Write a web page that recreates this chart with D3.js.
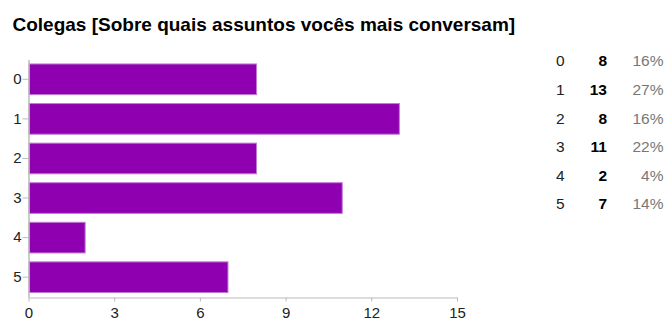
<!DOCTYPE html>
<html><head><meta charset="utf-8">
<script src="https://cdn.jsdelivr.net/npm/d3@7"></script>
<style>body{margin:0;background:#fff;}svg{display:block;font-family:"Liberation Sans",Arial,sans-serif;}</style>
</head><body>
<svg id="c" width="665" height="320"></svg>
<script>
const title = "Colegas [Sobre quais assuntos vocês mais conversam]";
const categories = ["0","1","2","3","4","5"];
const values = [8,13,8,11,2,7];
const percents = ["16%","27%","16%","22%","4%","14%"];
const xTicks = [0,3,6,9,12,15];

const svg = d3.select("#c");
svg.append("text").attr("x",12.5).attr("y",30.5).attr("font-size",19).attr("font-weight","bold").attr("fill","#000").text(title);

const x = d3.scaleLinear().domain([0,15]).range([28.5,457]);
const y = d3.scaleBand().domain(categories).range([59.5,297]).paddingInner(0.2).paddingOuter(0.1);

const g = svg.append("g");
g.selectAll("rect").data(values).join("rect")
  .attr("x",x(0)+0.5).attr("y",(d,i)=>y(categories[i])+0.5)
  .attr("width",d=>x(d)-x(0)-1).attr("height",y.bandwidth()-1)
  .attr("fill","#8f00b0").attr("stroke","#c27ad6").attr("stroke-width",1);

const xa = svg.append("g").attr("transform","translate(0,297.5)").call(d3.axisBottom(x).tickValues(xTicks).tickSize(4).tickPadding(6).tickSizeOuter(0));
xa.select(".domain").attr("stroke","#bbb");
xa.selectAll(".tick line").attr("stroke","#bbb");
xa.selectAll("text").attr("font-size",15).attr("fill","#222").attr("font-family","Liberation Sans, Arial, sans-serif");

const ya = svg.append("g").attr("transform","translate(28.5,0)").call(d3.axisLeft(y).tickSize(6).tickPadding(1).tickSizeOuter(0));
ya.select(".domain").attr("stroke","#bbb").attr("stroke-width",1.5);
ya.selectAll(".tick line").attr("stroke","#bbb");
ya.selectAll("text").attr("font-size",15).attr("fill","#222").attr("font-family","Liberation Sans, Arial, sans-serif");

const ry = d3.scalePoint().domain(categories).range([61,204]);
const leg = svg.append("g").attr("font-size",15.5);
leg.selectAll("text.c").data(categories).join("text").attr("class","c")
  .attr("x",556).attr("y",d=>ry(d)).attr("dy","0.35em").attr("fill","#222").text(d=>d);
leg.selectAll("text.v").data(values).join("text").attr("class","v")
  .attr("x",607).attr("y",(d,i)=>ry(categories[i])).attr("dy","0.35em").attr("text-anchor","end")
  .attr("font-weight","bold").attr("fill","#000").text(d=>d);
leg.selectAll("text.p").data(percents).join("text").attr("class","p")
  .attr("x",663.5).attr("y",(d,i)=>ry(categories[i])).attr("dy","0.35em").attr("text-anchor","end")
  .attr("fill","#777").text(d=>d);
</script>
</body></html>
